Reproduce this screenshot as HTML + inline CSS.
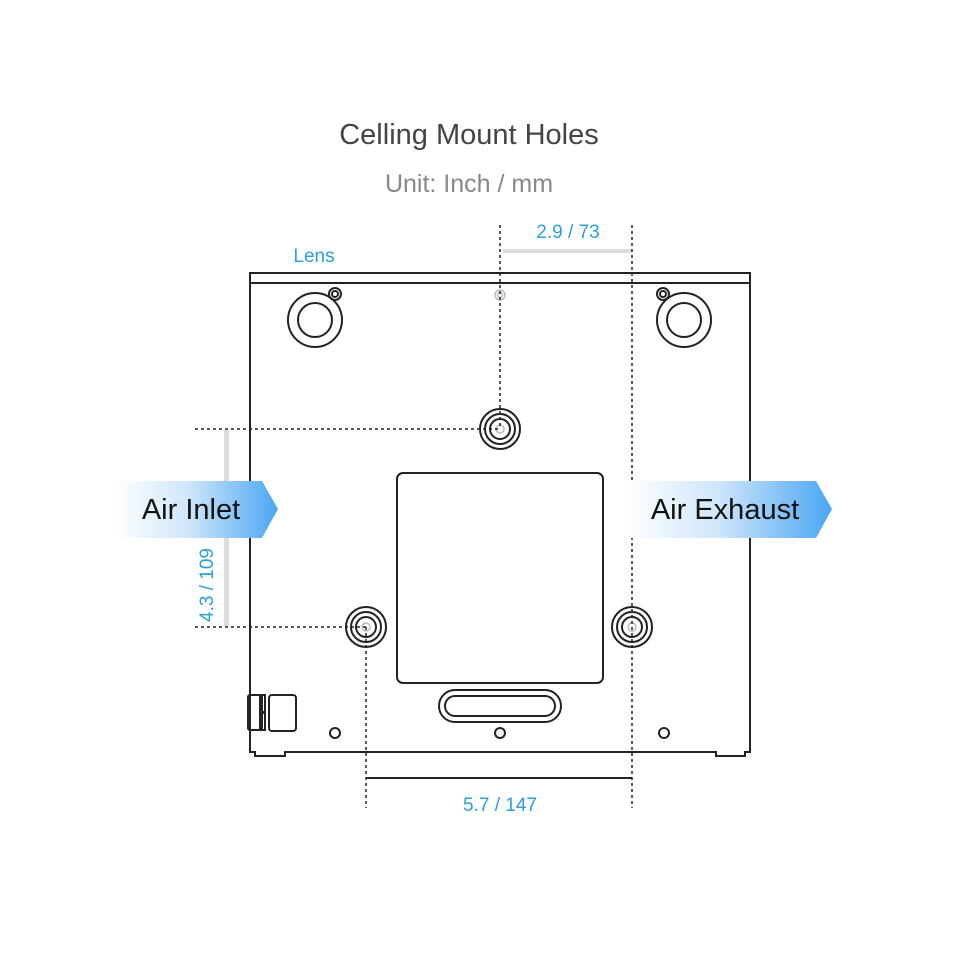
<!DOCTYPE html>
<html><head><meta charset="utf-8"><style>
html,body{margin:0;padding:0;background:#fff;}
svg{display:block;font-family:"Liberation Sans",sans-serif;}
</style></head><body>
<svg width="960" height="960" viewBox="0 0 960 960" xmlns="http://www.w3.org/2000/svg">
<defs>
<linearGradient id="g1" x1="0" x2="1" y1="0" y2="0">
<stop offset="0" stop-color="#fff"/><stop offset="0.45" stop-color="#cfe6fb"/><stop offset="1" stop-color="#4aa6f3"/></linearGradient>
</defs>
<text x="469" y="144" text-anchor="middle" font-size="29" fill="#444">Celling Mount Holes</text>
<text x="469" y="192" text-anchor="middle" font-size="25" fill="#888">Unit: Inch / mm</text>
<text x="314" y="262" text-anchor="middle" font-size="19" fill="#2aa0dc">Lens</text>
<text x="568" y="238" text-anchor="middle" font-size="19" fill="#2aa0dc">2.9 / 73</text>
<rect x="503" y="249" width="129" height="4" fill="#ddd"/>
<rect x="224" y="430" width="5" height="196" fill="#ddd"/>
<g fill="none" stroke="#222" stroke-width="2">
<path d="M250 752 V273 H750 V752 H745 V756 H716 V752 H285 V756 H255 V752 Z"/>
<line x1="250" y1="283" x2="750" y2="283"/>
<circle cx="315" cy="320" r="27"/><circle cx="315" cy="320" r="17"/>
<circle cx="335" cy="294" r="6"/><circle cx="335" cy="294" r="3"/>
<circle cx="684" cy="320" r="27"/><circle cx="684" cy="320" r="17"/>
<circle cx="663" cy="294" r="6"/><circle cx="663" cy="294" r="3"/>
<rect x="397" y="473" width="206" height="210" rx="6"/>
<rect x="439" y="690" width="122" height="32" rx="16"/>
<rect x="445" y="696" width="110" height="20" rx="10"/>
<rect x="248" y="695" width="14" height="35" rx="2"/>
<rect x="260" y="695" width="5" height="17"/><rect x="260" y="713" width="5" height="17"/>
<rect x="269" y="695" width="27" height="36" rx="3"/>
<circle cx="335" cy="733" r="5"/><circle cx="664" cy="733" r="5"/>
<circle cx="500" cy="733" r="5" fill="#eee"/>
<line x1="366" y1="778" x2="632" y2="778"/>
</g>
<g fill="none" stroke="#222" stroke-width="2">
<circle cx="500" cy="429" r="20"/><circle cx="500" cy="429" r="15"/><circle cx="500" cy="429" r="10"/>
<circle cx="366" cy="627" r="20"/><circle cx="366" cy="627" r="15"/><circle cx="366" cy="627" r="10"/>
<circle cx="632" cy="627" r="20"/><circle cx="632" cy="627" r="15"/><circle cx="632" cy="627" r="10"/>
</g>
<g fill="none" stroke="#bbb" stroke-width="1.5">
<circle cx="500" cy="295" r="5"/><circle cx="500" cy="295" r="2.5"/>
<circle cx="500" cy="429" r="4"/><circle cx="366" cy="627" r="4"/><circle cx="632" cy="627" r="4"/>
</g>
<g stroke="#222" stroke-width="1.5" stroke-dasharray="3,3" fill="none">
<line x1="500" y1="225" x2="500" y2="429"/>
<line x1="632" y1="225" x2="632" y2="808"/>
<line x1="366" y1="627" x2="366" y2="808"/>
<line x1="195" y1="429" x2="500" y2="429"/>
<line x1="195" y1="627" x2="366" y2="627"/>
</g>
<text x="500" y="811" text-anchor="middle" font-size="19" fill="#2aa0dc">5.7 / 147</text>
<text transform="translate(213,585) rotate(-90)" text-anchor="middle" font-size="19" fill="#2aa0dc">4.3 / 109</text>
<path d="M115 481 H262 L278 509 L262 538 H115 Z" fill="url(#g1)"/>
<text x="191" y="519" text-anchor="middle" font-size="29" fill="#111">Air Inlet</text>
<path d="M625 481 H816 L832 509 L816 538 H625 Z" fill="url(#g1)"/>
<text x="725" y="519" text-anchor="middle" font-size="29" fill="#111">Air Exhaust</text>
</svg>
</body></html>
